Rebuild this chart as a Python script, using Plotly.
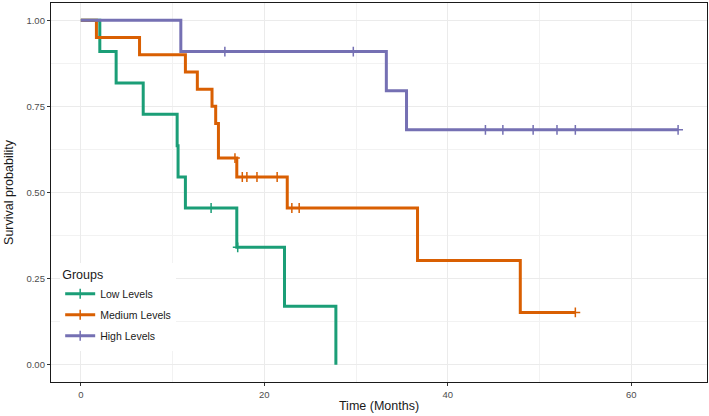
import plotly.graph_objects as go

# ---- data ----
groups = ["Low Levels", "Medium Levels", "High Levels"]
colors = ["#1B9E77", "#D95F02", "#7570B3"]

low_time = [0, 2.07, 3.85, 6.8, 10.5, 10.6, 11.4, 17.0, 22.2, 27.8]
low_surv = [1.0, 0.909, 0.818, 0.727, 0.636, 0.545, 0.455, 0.341, 0.170, 0.0]
low_cens_time = [14.2, 17.1]
low_cens_surv = [0.455, 0.341]

med_time = [0, 1.7, 6.4, 11.4, 12.7, 14.3, 14.7, 15.0, 17.0, 22.5, 36.7, 47.9, 53.9]
med_surv = [1.0, 0.95, 0.90, 0.85, 0.80, 0.75, 0.70, 0.60, 0.545, 0.455, 0.303, 0.152, 0.152]
med_cens_time = [16.8, 17.6, 18.1, 19.2, 21.4, 23.0, 23.8, 53.9]
med_cens_surv = [0.60, 0.545, 0.545, 0.545, 0.545, 0.455, 0.455, 0.152]

high_time = [0, 10.9, 33.3, 35.5, 65.1]
high_surv = [1.0, 0.909, 0.795, 0.682, 0.682]
high_cens_time = [15.7, 29.7, 44.1, 46.0, 49.3, 51.9, 53.9, 65.1]
high_cens_surv = [0.909, 0.909, 0.682, 0.682, 0.682, 0.682, 0.682, 0.682]

x_ticks = [0, 20, 40, 60]
y_ticks = [0.0, 0.25, 0.50, 0.75, 1.00]
y_tick_labels = ["0.00", "0.25", "0.50", "0.75", "1.00"]

series = [
    (low_time, low_surv, low_cens_time, low_cens_surv),
    (med_time, med_surv, med_cens_time, med_cens_surv),
    (high_time, high_surv, high_cens_time, high_cens_surv),
]

FONT = "Liberation Sans, Arial, sans-serif"
fig = go.Figure()

for name, col, (t, s, ct, cs) in zip(groups, colors, series):
    fig.add_trace(go.Scatter(
        x=t, y=s, mode="lines", line=dict(color=col, width=3, shape="hv"),
        name=name, legendgroup=name, showlegend=False, hoverinfo="skip"))
    # censor marks; None separators keep points unconnected while the
    # legend still shows line + cross
    cx, cy = [], []
    for a, b in zip(ct, cs):
        cx += [a, None]
        cy += [b, None]
    fig.add_trace(go.Scatter(
        x=cx, y=cy, mode="lines+markers", connectgaps=False,
        line=dict(color=col, width=3),
        marker=dict(symbol="cross-thin", size=7, color=col,
                    line=dict(color=col, width=1.5)),
        name=name, legendgroup=name, showlegend=True))

axis_common = dict(
    showgrid=True, gridcolor="#EBEBEB", gridwidth=1.1,
    zeroline=False, showline=True, mirror=True,
    linecolor="#1a1a1a", linewidth=1.3,
    ticks="outside", ticklen=3, tickwidth=1.1, tickcolor="#333333",
    tickfont=dict(family=FONT, size=9.5, color="#4D4D4D"),
)

fig.update_xaxes(
    range=[-3.25, 68.25], tickvals=x_ticks,
    minor=dict(dtick=10, tick0=0, showgrid=True, gridcolor="#F2F2F2",
               gridwidth=0.6, ticks=""),
    title=dict(text="Time (Months)", font=dict(family=FONT, size=12.5, color="#1a1a1a"),
               standoff=2),
    **axis_common)
fig.update_yaxes(
    range=[-0.05, 1.05], tickvals=y_ticks, ticktext=y_tick_labels,
    minor=dict(dtick=0.125, tick0=0, showgrid=True, gridcolor="#F2F2F2",
               gridwidth=0.6, ticks=""),
    title=dict(text="Survival probability", font=dict(family=FONT, size=12.5, color="#1a1a1a"),
               standoff=10),
    **axis_common)

fig.update_layout(
    width=709, height=416,
    margin=dict(l=51, r=2, t=3, b=34),
    paper_bgcolor="white", plot_bgcolor="white",
    showlegend=True,
    legend=dict(
        x=0.014, y=0.314, xanchor="left", yanchor="top",
        bgcolor="white", borderwidth=0,
        title=dict(text="Groups", font=dict(family=FONT, size=12.5, color="#1a1a1a")),
        font=dict(family=FONT, size=10.5, color="#1a1a1a"),
        tracegroupgap=2, itemwidth=30,
    ),
)

fig.write_html("out.html", config={"displayModeBar": False},
               post_script="document.body.style.margin='0';document.body.style.overflow='hidden';")
